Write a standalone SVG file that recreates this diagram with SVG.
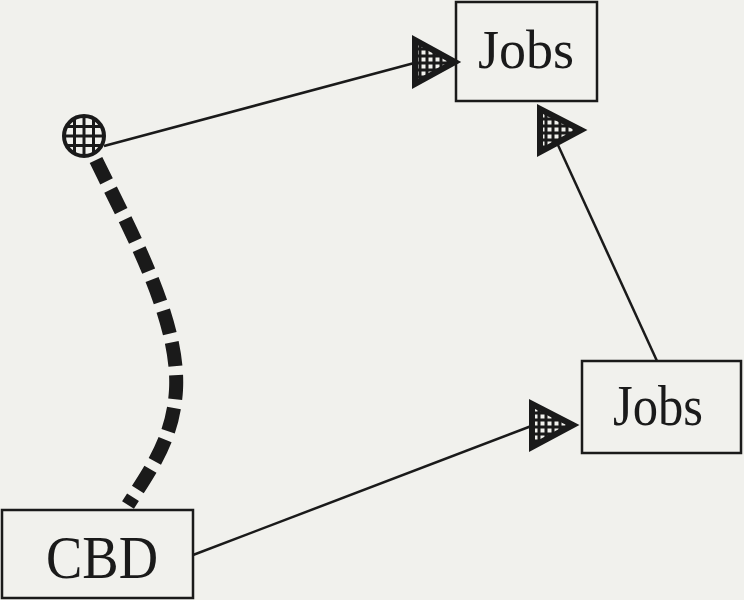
<svg xmlns="http://www.w3.org/2000/svg" width="744" height="600" viewBox="0 0 744 600">
<style>
.box{fill:none;stroke:#1a1a1a;stroke-width:2.5}
.lbl{font-family:"Times New Roman","Liberation Serif",Times,serif;fill:#1a1a1a}
.conn{stroke:#1a1a1a;stroke-width:2.5;fill:none}
.head{fill:url(#stip);stroke:#1a1a1a;stroke-width:6;stroke-linejoin:miter}
</style>
<defs>
<pattern id="stip" width="7" height="7" patternUnits="userSpaceOnUse">
<rect width="7" height="7" fill="#1a1a1a"/>
<rect x="1.5" y="1.5" width="4" height="4" fill="#f2f2ee"/>
</pattern>
<clipPath id="cc"><circle cx="84" cy="136" r="21"/></clipPath>
</defs>
<rect width="744" height="600" fill="#f1f1ed"/>
<g id="connectors">
<line class="conn" x1="104" y1="146" x2="418" y2="62"/>
<polygon class="head" points="415,40 415,84 455,62"/>
<line class="conn" x1="193" y1="555" x2="534" y2="425"/>
<polygon class="head" points="532,404 532,447 573,425"/>
<line class="conn" x1="657" y1="361" x2="558" y2="145"/>
<polygon class="head" points="540,109 540,152 581,130"/>
<path d="M96,160 C130,230 180,320 176,390 C173,440 150,470 128,505" stroke="#1a1a1a" stroke-width="14" stroke-dasharray="24 9" fill="none"/>
</g>
<g id="origin">
<circle cx="84" cy="136" r="21" fill="#f2f2ee"/>
<g clip-path="url(#cc)" stroke="#1a1a1a" stroke-width="3">
<line x1="58" y1="126.5" x2="110" y2="126.5"/>
<line x1="58" y1="136" x2="110" y2="136"/>
<line x1="58" y1="145.5" x2="110" y2="145.5"/>
<line x1="74.5" y1="110" x2="74.5" y2="162"/>
<line x1="84" y1="110" x2="84" y2="162"/>
<line x1="93.5" y1="110" x2="93.5" y2="162"/>
</g>
<circle cx="84" cy="136" r="20" fill="none" stroke="#1a1a1a" stroke-width="4"/>
</g>
<g id="jobs-top">
<rect class="box" x="456" y="2" width="141" height="99"/>
<text class="lbl" x="526" y="68" font-size="54" text-anchor="middle">Jobs</text>
</g>
<g id="jobs-right">
<rect class="box" x="582" y="361" width="159" height="92"/>
<text class="lbl" x="658" y="425" font-size="56" text-anchor="middle" textLength="90" lengthAdjust="spacingAndGlyphs">Jobs</text>
</g>
<g id="cbd">
<rect class="box" x="2" y="510" width="191" height="88"/>
<text class="lbl" x="102" y="578" font-size="62" text-anchor="middle" textLength="112" lengthAdjust="spacingAndGlyphs">CBD</text>
</g>
</svg>
